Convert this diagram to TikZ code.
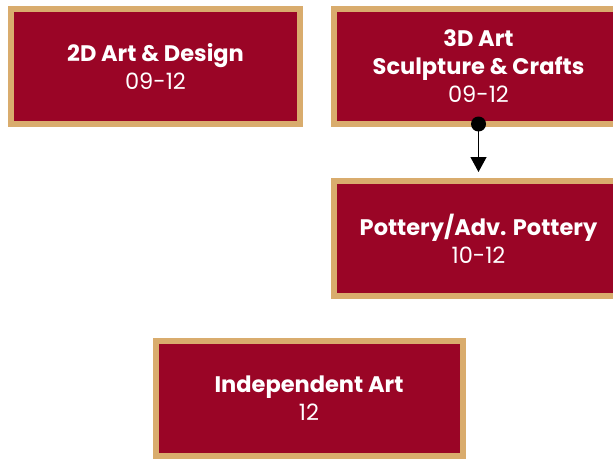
\documentclass[tikz,border=0pt]{standalone}
\usepackage{fontspec}
\setmainfont{Poppins}
\usetikzlibrary{positioning,arrows.meta}

\definecolor{artred}{HTML}{9A0526}
\definecolor{arttan}{HTML}{D9AC6D}

\tikzset{
    course/.style={draw=arttan, fill=artred, line width=6pt, outer sep=0pt,
        minimum width=289pt, minimum height=115pt, align=center,
        text=white, font=\fontsize{22.5}{28}\selectfont},
}

\begin{document}
\begin{tikzpicture}[node distance=34pt, auto]
        \useasboundingbox (0,0) rectangle (613pt,-460pt);
        \clip (0,0) rectangle (613pt,-460pt);

        % Node definitions
        \node (twod) [course] at (155.5pt,-66.5pt) {
            {\bfseries 2D Art \& Design}\\ 09-12
        };

        \node (threed) [course, right=34pt of twod] {
            {\bfseries 3D Art}\\ {\bfseries Sculpture \& Crafts}\\ 09-12
        };

        \node (pottery) [course, below=57pt of threed] {
            {\bfseries Pottery/Adv. Pottery}\\ 10-12
        };

        \node (indep) [course, minimum width=307pt, below=45pt of pottery, xshift=-169.5pt] {
            {\bfseries Independent Art}\\ 12
        };

        % Connecting lines
        \draw[-{Triangle[length=15pt,width=16pt]}, line width=1.2pt, shorten >=9pt] (threed.south) -- (pottery.north);
        \fill (threed.south) circle (7.5pt);
    \end{tikzpicture}
\end{document}
